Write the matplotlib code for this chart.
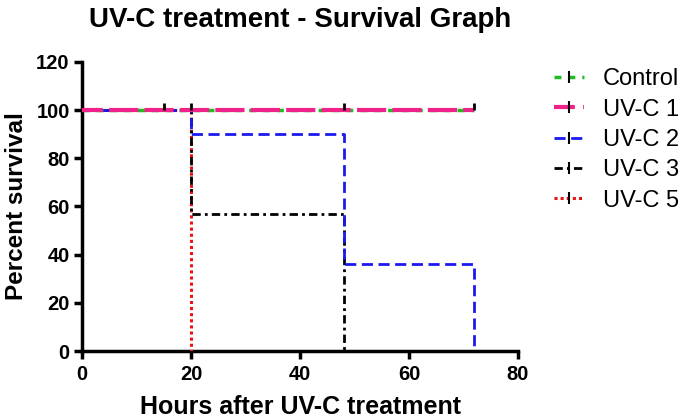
import matplotlib
matplotlib.use("Agg")
import matplotlib.pyplot as plt
from matplotlib.path import Path
from matplotlib.lines import Line2D

plt.rcParams['font.family'] = ['Liberation Sans', 'DejaVu Sans']

# Step data (time in hours, percent survival)
control_t = [0, 72]
control_s = [100, 100]
uvc1_t = [0, 72]
uvc1_s = [100, 100]
uvc2_t = [0, 20, 48, 72, 72]
uvc2_s = [100, 90, 36, 36, 0]
uvc3_t = [0, 20, 48, 48]
uvc3_s = [100, 57, 57, 0]
uvc5_t = [0, 20, 20]
uvc5_s = [100, 100, 0]

# Censored observations
censor_t = [15, 20, 48, 72]
censor_s = [100, 100, 100, 100]

x_ticks = [0, 20, 40, 60, 80]
y_ticks = [0, 20, 40, 60, 80, 100, 120]
names = ['Control', 'UV-C 1', 'UV-C 2', 'UV-C 3', 'UV-C 5']

fig = plt.figure(figsize=(6.85, 4.18), dpi=100)
ax = fig.add_axes([0.12, 0.16, 0.636, 0.692])

up_tick = Path([(0, 0), (0, 1)], [Path.MOVETO, Path.LINETO])

ax.step(uvc5_t, uvc5_s, where='post', color='#ee1111', linestyle=(0, (1, 1)), lw=2.2, zorder=3)
ax.step(uvc3_t, uvc3_s, where='post', color='black', linestyle=(0, (3, 1.5, 1, 1.5)), lw=2, zorder=3)
ax.step(uvc2_t, uvc2_s, where='post', color='#1a1aee', linestyle=(0, (4, 2)), lw=2, zorder=3)
ax.plot(control_t, control_s, color='#22bb22', linestyle=(0, (2, 2)), lw=2.5, zorder=4)
ax.plot(uvc1_t, uvc1_s, color='#ee2288', linestyle=(2, (7, 1.5)), lw=3, zorder=5)
ax.plot(censor_t, censor_s, linestyle='none', marker=up_tick, markersize=10,
        markeredgecolor='black', markeredgewidth=2, zorder=6)

ax.set_xlim(0, 80)
ax.set_ylim(0, 120)
ax.set_xticks(x_ticks)
ax.set_yticks(y_ticks)
for s in ['top', 'right']:
    ax.spines[s].set_visible(False)
for s in ['left', 'bottom']:
    ax.spines[s].set_linewidth(2.5)
ax.tick_params(direction='out', length=6, width=2.5, labelsize=14.5, pad=3)
ax.tick_params(axis='x', pad=4)
for lab in ax.get_xticklabels() + ax.get_yticklabels():
    lab.set_fontweight('bold')

ax.set_xlabel('Hours after UV-C treatment', fontsize=18, fontweight='bold', labelpad=8)
ax.set_ylabel('Percent survival', fontsize=17.5, fontweight='bold', labelpad=6)
ax.set_title('UV-C treatment - Survival Graph', fontsize=20, fontweight='bold', pad=25)

# Legend
colors = ['#22bb22', '#ee2288', '#1a1aee', 'black', '#ee1111']
styles = [(0, (2, 2)), (0, (5, 2)), (0, (4, 2)), (0, (3, 1.5, 1, 1.5)), (0, (1, 1))]
widths = [2.5, 3, 2, 2, 2.2]
handles = [Line2D([0], [0], color=c, linestyle=ls, lw=w, marker='|', markersize=8,
                  markeredgecolor='black', markeredgewidth=1.5)
           for c, ls, w in zip(colors, styles, widths)]
fig.legend(handles, names, loc='upper left', bbox_to_anchor=(0.778, 0.887),
           frameon=False, fontsize=17, handlelength=1.25, handletextpad=0.8,
           labelspacing=0.35)

fig.savefig('out.png', dpi=100)
